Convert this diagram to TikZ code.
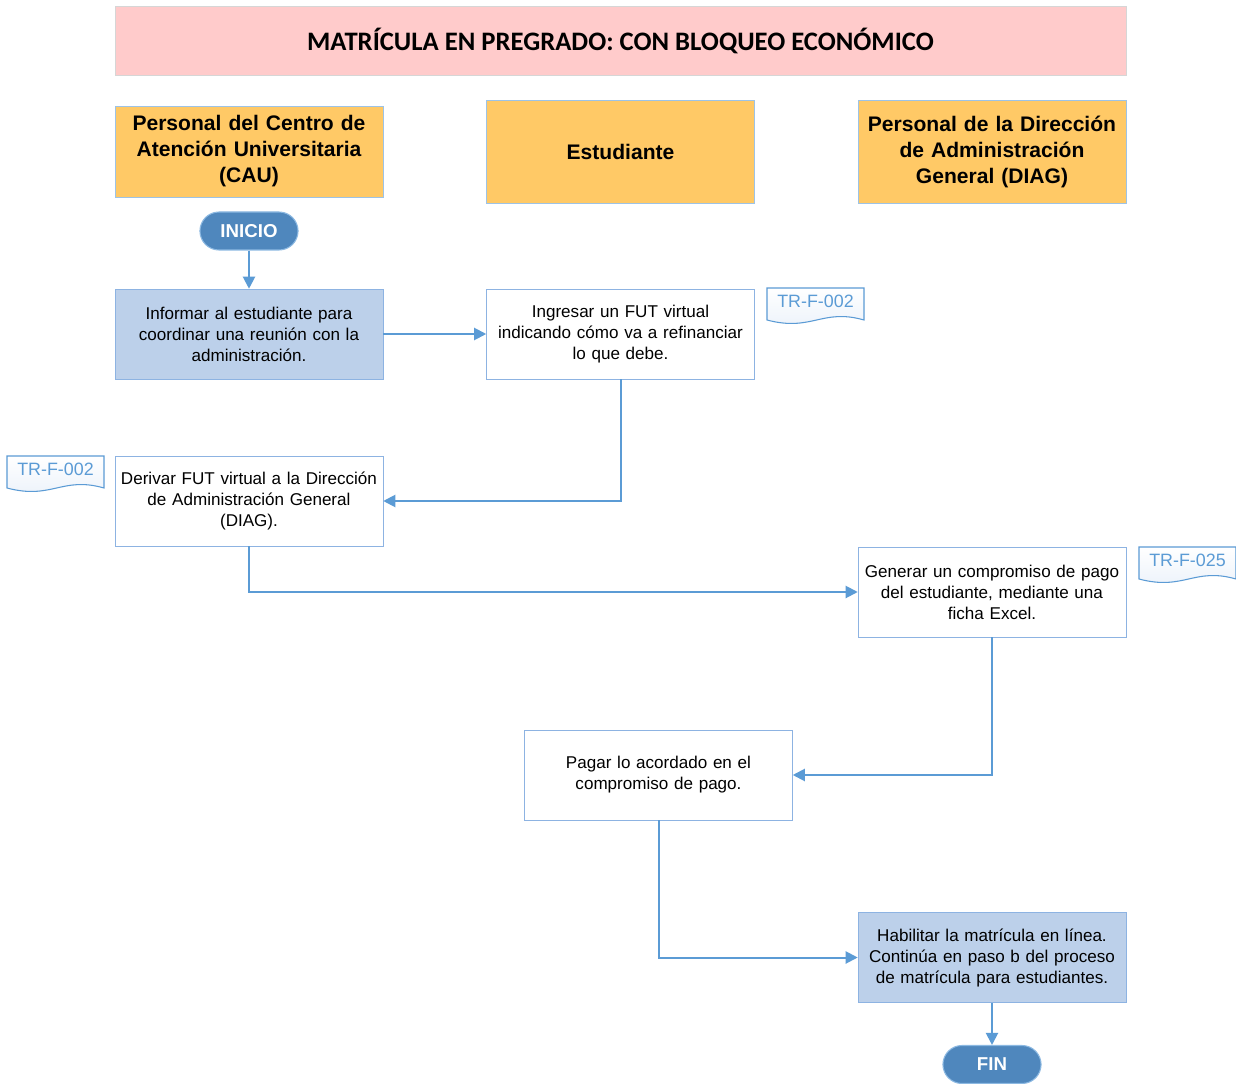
\documentclass[tikz,border=0pt]{standalone}
\usepackage{fontspec}
\setmainfont{Liberation Sans}
\newfontfamily\titlefont{Carlito}
\usetikzlibrary{arrows.meta,shapes.misc}
\definecolor{linec}{HTML}{5B9BD5}
\definecolor{titlefill}{HTML}{FFCBCB}
\definecolor{titleedge}{HTML}{D6D6D6}
\definecolor{headfill}{HTML}{FFC966}
\definecolor{headedge}{HTML}{9DC3E6}
\definecolor{boxedge}{HTML}{8DB3E2}
\definecolor{bluefill}{HTML}{BCD0EA}
\definecolor{termfill}{HTML}{4F87BD}
\definecolor{docfill}{HTML}{EAF1FA}
\tikzset{
  title/.style={draw=titleedge, fill=titlefill, minimum width=1011*0.75pt, minimum height=69*0.75pt, font=\titlefont\bfseries\fontsize{20}{24}\selectfont},
  head/.style={draw=headedge, fill=headfill, text width=268*0.75pt, align=center, inner sep=0pt, minimum width=268*0.75pt, font=\bfseries\fontsize{15.8}{19.5}\selectfont},
  stepbox/.style={draw=boxedge, fill=white, minimum width=268*0.75pt, minimum height=90*0.75pt, text width=268*0.75pt, inner sep=0pt, align=center, font=\fontsize{12.8}{15.75}\selectfont},
  bluebox/.style={stepbox, fill=bluefill},
  term/.style={rounded rectangle, draw=linec!70!white, line width=0.8pt, fill=termfill, text=white, minimum width=107*0.75pt, minimum height=38*0.75pt, font=\bfseries\fontsize{14}{16}\selectfont},
  conn/.style={draw=linec, line width=1.5pt, -{Triangle[length=9pt,width=9pt]}},
  doctext/.style={text=linec, font=\fontsize{13.4}{15}\selectfont},
}
\newcommand{\docshape}[4]{% x y label name
  \path[draw=linec, line width=0.8pt, top color=white, bottom color=docfill]
    (#1,#2) -- (#1+97,#2) -- (#1+97,#2+32)
    .. controls (#1+55,#2+20) and (#1+45,#2+44) .. (#1,#2+32) -- cycle;
  \node[doctext] (#4) at (#1+48.5,#2+13.5) {#3};
}
\begin{document}
\begin{tikzpicture}[x=0.75pt,y=-0.75pt]
\useasboundingbox (0,0) rectangle (1236,1084);
\fill[white] (0,0) rectangle (1236,1084);

\node[title] (title) at (620.5,40.5) {MATRÍCULA EN PREGRADO: CON BLOQUEO ECONÓMICO};

\node[head, minimum height=91*0.75pt] (h1) at (249,151.5) {Personal del Centro de\\Atención Universitaria\\(CAU)};
\node[head, minimum height=103*0.75pt] (h2) at (620.5,151.5) {Estudiante};
\node[head, minimum height=103*0.75pt] (h3) at (992,151.5) {Personal de la Dirección\\de Administración\\General (DIAG)};

\node[term] (inicio) at (249,231) {INICIO};

\node[bluebox] (b1) at (249,334) {Informar al estudiante para\\coordinar una reunión con la\\administración.};
\node[stepbox] (b2) at (620.5,334) {Ingresar un FUT virtual\\indicando cómo va a refinanciar\\lo que debe.};
\node[stepbox] (b3) at (249,501) {Derivar FUT virtual a la Dirección\\de Administración General\\(DIAG).};
\node[stepbox] (b4) at (992,592) {Generar un compromiso de pago\\del estudiante, mediante una\\ficha Excel.};
\node[stepbox] (b5) at (658.5,775) {Pagar lo acordado en el\\compromiso de pago.};
\node[bluebox] (b6) at (992,957.5) {Habilitar la matrícula en línea.\\Continúa en paso b del proceso\\de matrícula para estudiantes.};

\node[term] (fin) at (992,1064.5) {FIN};

\docshape{767}{288}{TR-F-002}{d1}
\docshape{7}{456}{TR-F-002}{d2}
\docshape{1139}{547}{TR-F-025}{d3}

\draw[conn] (inicio.south) -- (b1.north);
\draw[conn] (b1.east) -- (b2.west);
\draw[conn] (b2.south) |- (b3.east);
\draw[conn] (b3.south) |- (b4.west);
\draw[conn] (b4.south) |- (b5.east);
\draw[conn] (b5.south) |- (b6.west);
\draw[conn] (b6.south) -- (fin.north);
\end{tikzpicture}
\end{document}
